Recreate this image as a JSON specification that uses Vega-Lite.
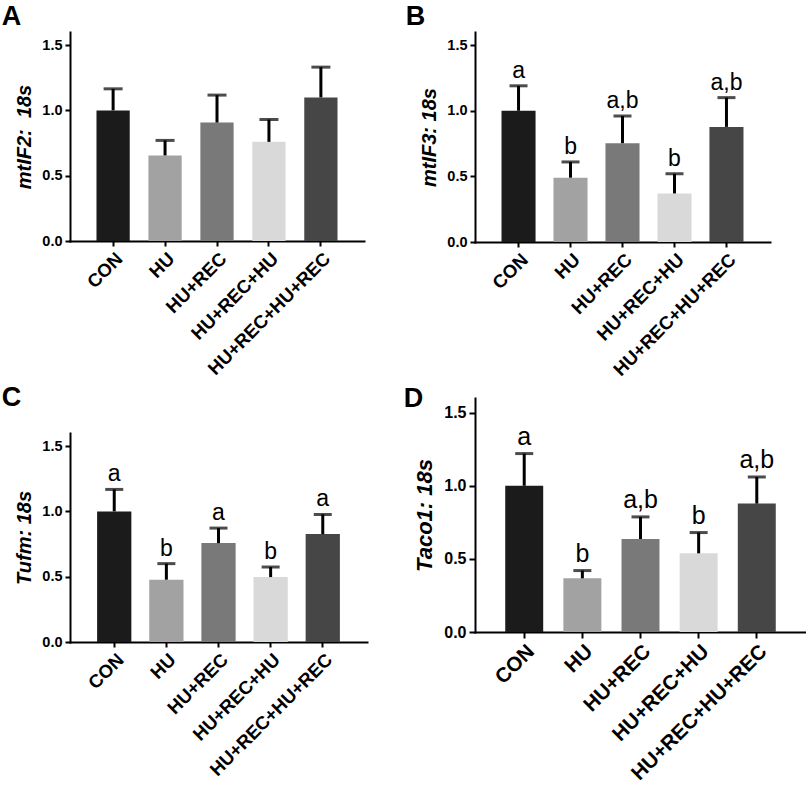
{
  "$schema": "https://vega.github.io/schema/vega-lite/v6.json",
  "padding": {"left": 1, "top": 3, "right": 0, "bottom": 0},
  "autosize": {"type": "pad"},
  "background": "white",
  "config": {
    "font": "Liberation Sans",
    "view": {"stroke": null},
    "axis": {
      "domainColor": "black", "domainWidth": 2, "domainCap": "square",
      "tickColor": "black", "tickWidth": 2, "tickSize": 5,
      "labelFont": "Liberation Sans", "labelFontWeight": "bold", "labelColor": "black",
      "titleFont": "Liberation Sans", "titleFontWeight": "bold", "titleFontStyle": "italic", "titleColor": "black",
      "grid": false
    },
    "axisX": {"labelAngle": -45, "labelFontSize": 18.5, "labelPadding": 3, "labelLimit": 400},
    "axisY": {"labelFontSize": 14.5, "titleFontSize": 20, "titlePadding": 7, "labelPadding": 3},
    "title": {"font": "Liberation Sans", "fontSize": 27, "fontWeight": "bold", "color": "black", "anchor": "start", "frame": "bounds"}
  },
  "datasets": {
    "A": [
      {"group": "CON", "mean": 1.0, "upper": 1.165},
      {"group": "HU", "mean": 0.655, "upper": 0.77},
      {"group": "HU+REC", "mean": 0.907, "upper": 1.117},
      {"group": "HU+REC+HU", "mean": 0.759, "upper": 0.93},
      {"group": "HU+REC+HU+REC", "mean": 1.099, "upper": 1.331}
    ],
    "B": [
      {"group": "CON", "mean": 1.0, "upper": 1.19, "label": "a"},
      {"group": "HU", "mean": 0.49, "upper": 0.61, "label": "b"},
      {"group": "HU+REC", "mean": 0.753, "upper": 0.96, "label": "a,b"},
      {"group": "HU+REC+HU", "mean": 0.37, "upper": 0.52, "label": "b"},
      {"group": "HU+REC+HU+REC", "mean": 0.877, "upper": 1.10, "label": "a,b"}
    ],
    "C": [
      {"group": "CON", "mean": 1.0, "upper": 1.168, "label": "a"},
      {"group": "HU", "mean": 0.477, "upper": 0.60, "label": "b"},
      {"group": "HU+REC", "mean": 0.757, "upper": 0.872, "label": "a"},
      {"group": "HU+REC+HU", "mean": 0.497, "upper": 0.574, "label": "b"},
      {"group": "HU+REC+HU+REC", "mean": 0.826, "upper": 0.977, "label": "a"}
    ],
    "D": [
      {"group": "CON", "mean": 1.0, "upper": 1.22, "label": "a"},
      {"group": "HU", "mean": 0.367, "upper": 0.42, "label": "b"},
      {"group": "HU+REC", "mean": 0.636, "upper": 0.787, "label": "a,b"},
      {"group": "HU+REC+HU", "mean": 0.538, "upper": 0.68, "label": "b"},
      {"group": "HU+REC+HU+REC", "mean": 0.878, "upper": 1.06, "label": "a,b"}
    ]
  },
  "spacing": 36,
  "hconcat": [
    {
      "spacing": 5,
      "vconcat": [
        {
          "title": {"text": "A", "dx": -13, "offset": 1},
          "width": 294, "height": 209,
          "data": {"name": "A"},
          "encoding": {
            "x": {"field": "group", "type": "nominal", "sort": null, "title": null,
                  "scale": {"paddingInner": 0.36, "paddingOuter": 0.51}}
          },
          "layer": [
            {"mark": {"type": "bar"},
             "encoding": {
               "y": {"field": "mean", "type": "quantitative", "scale": {"domain": [0, 1.5]},
                     "axis": {"values": [0, 0.5, 1, 1.5], "format": ".1f", "title": "mtIF2:\u00a0 18s"}},
               "color": {"field": "group", "type": "nominal", "legend": null, "sort": null,
                         "scale": {"domain": ["CON", "HU", "HU+REC", "HU+REC+HU", "HU+REC+HU+REC"],
                                   "range": ["#1b1b1b", "#a2a2a2", "#797979", "#d9d9d9", "#464646"]}}
             }},
            {"mark": {"type": "rule", "color": "black", "strokeWidth": 3},
             "encoding": {"y": {"field": "mean", "type": "quantitative"}, "y2": {"field": "upper"}}},
            {"mark": {"type": "tick", "color": "black", "size": 19, "thickness": 3},
             "encoding": {"y": {"field": "upper", "type": "quantitative"}}}
          ]
        },
        {
          "title": {"text": "C", "dx": -13, "offset": 21},
          "width": 297, "height": 209,
          "data": {"name": "C"},
          "encoding": {
            "x": {"field": "group", "type": "nominal", "sort": null, "title": null,
                  "scale": {"paddingInner": 0.343, "paddingOuter": 0.52}}
          },
          "layer": [
            {"mark": {"type": "bar"},
             "encoding": {
               "y": {"field": "mean", "type": "quantitative", "scale": {"domain": [0, 1.5]},
                     "axis": {"values": [0, 0.5, 1, 1.5], "format": ".1f", "title": "Tufm: 18s"}},
               "color": {"field": "group", "type": "nominal", "legend": null, "sort": null,
                         "scale": {"domain": ["CON", "HU", "HU+REC", "HU+REC+HU", "HU+REC+HU+REC"],
                                   "range": ["#1b1b1b", "#a2a2a2", "#797979", "#d9d9d9", "#464646"]}}
             }},
            {"mark": {"type": "rule", "color": "black", "strokeWidth": 3},
             "encoding": {"y": {"field": "mean", "type": "quantitative"}, "y2": {"field": "upper"}}},
            {"mark": {"type": "tick", "color": "black", "size": 18, "thickness": 3},
             "encoding": {"y": {"field": "upper", "type": "quantitative"}}},
            {"mark": {"type": "text", "font": "Liberation Sans", "fontSize": 23, "baseline": "alphabetic", "dy": -8, "color": "black"},
             "encoding": {"y": {"field": "upper", "type": "quantitative"}, "text": {"field": "label"}}}
          ]
        }
      ]
    },
    {
      "spacing": 5,
      "vconcat": [
        {
          "title": {"text": "B", "dx": -14, "offset": 1},
          "width": 295, "height": 210,
          "data": {"name": "B"},
          "encoding": {
            "x": {"field": "group", "type": "nominal", "sort": null, "title": null,
                  "scale": {"paddingInner": 0.345, "paddingOuter": 0.51}}
          },
          "layer": [
            {"mark": {"type": "bar"},
             "encoding": {
               "y": {"field": "mean", "type": "quantitative", "scale": {"domain": [0, 1.5]},
                     "axis": {"values": [0, 0.5, 1, 1.5], "format": ".1f", "title": "mtIF3: 18s"}},
               "color": {"field": "group", "type": "nominal", "legend": null, "sort": null,
                         "scale": {"domain": ["CON", "HU", "HU+REC", "HU+REC+HU", "HU+REC+HU+REC"],
                                   "range": ["#1b1b1b", "#a2a2a2", "#797979", "#d9d9d9", "#464646"]}}
             }},
            {"mark": {"type": "rule", "color": "black", "strokeWidth": 3},
             "encoding": {"y": {"field": "mean", "type": "quantitative"}, "y2": {"field": "upper"}}},
            {"mark": {"type": "tick", "color": "black", "size": 18, "thickness": 3},
             "encoding": {"y": {"field": "upper", "type": "quantitative"}}},
            {"mark": {"type": "text", "font": "Liberation Sans", "fontSize": 23, "baseline": "alphabetic", "dy": -8, "color": "black"},
             "encoding": {"y": {"field": "upper", "type": "quantitative"}, "text": {"field": "label"}}}
          ]
        },
        {
          "title": {"text": "D", "dx": -10, "offset": -15},
          "width": 331, "height": 234,
          "data": {"name": "D"},
          "encoding": {
            "x": {"field": "group", "type": "nominal", "sort": null, "title": null,
                  "scale": {"paddingInner": 0.347, "paddingOuter": 0.52},
                  "axis": {"labelFontSize": 20.5, "tickSize": 6}}
          },
          "layer": [
            {"mark": {"type": "bar"},
             "encoding": {
               "y": {"field": "mean", "type": "quantitative", "scale": {"domain": [0, 1.5]},
                     "axis": {"values": [0, 0.5, 1, 1.5], "format": ".1f", "title": "Taco1: 18s",
                              "labelFontSize": 16, "titleFontSize": 22, "tickSize": 6}},
               "color": {"field": "group", "type": "nominal", "legend": null, "sort": null,
                         "scale": {"domain": ["CON", "HU", "HU+REC", "HU+REC+HU", "HU+REC+HU+REC"],
                                   "range": ["#1b1b1b", "#a2a2a2", "#797979", "#d9d9d9", "#464646"]}}
             }},
            {"mark": {"type": "rule", "color": "black", "strokeWidth": 3},
             "encoding": {"y": {"field": "mean", "type": "quantitative"}, "y2": {"field": "upper"}}},
            {"mark": {"type": "tick", "color": "black", "size": 18, "thickness": 3},
             "encoding": {"y": {"field": "upper", "type": "quantitative"}}},
            {"mark": {"type": "text", "font": "Liberation Sans", "fontSize": 25, "baseline": "alphabetic", "dy": -9, "color": "black"},
             "encoding": {"y": {"field": "upper", "type": "quantitative"}, "text": {"field": "label"}}}
          ]
        }
      ]
    }
  ]
}
